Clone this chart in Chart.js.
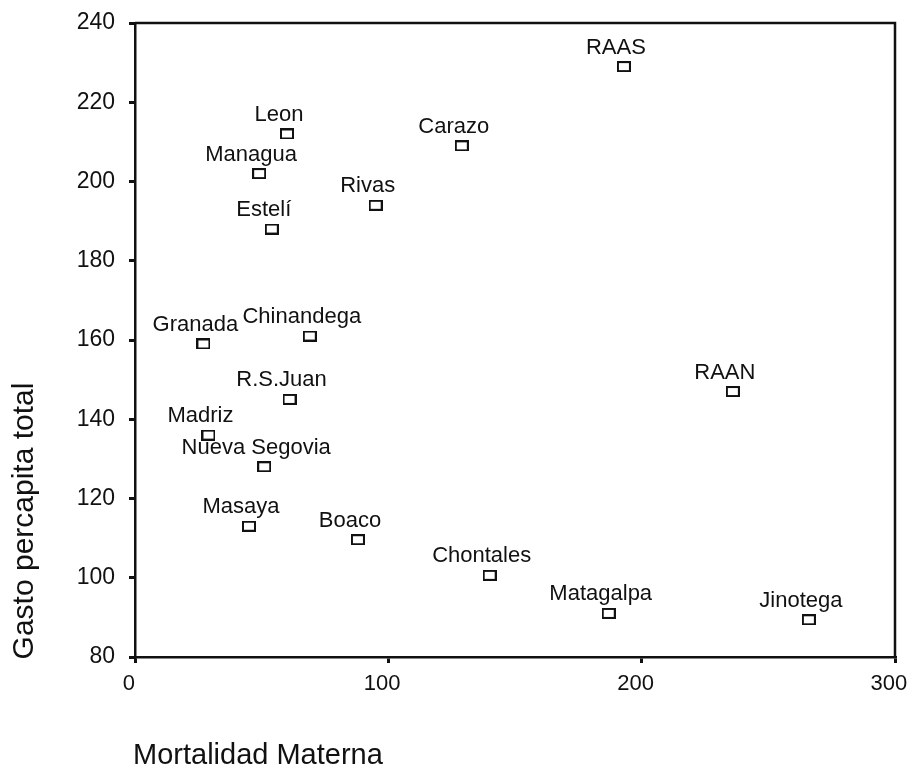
<!DOCTYPE html>
<html>
<head>
<meta charset="utf-8">
<title>Gasto percapita vs Mortalidad Materna</title>
<script src="https://cdn.jsdelivr.net/npm/chart.js@4/dist/chart.umd.min.js"></script>
<style>
  html, body { margin: 0; padding: 0; background: #fff; }
  #wrap { width: 911px; height: 766px; }
</style>
</head>
<body>
<div id="wrap"><canvas id="scatterChart" width="911" height="766"></canvas></div>
<script>
// departamentos / regiones
const departamentos = ['RAAS', 'Carazo', 'Leon', 'Managua', 'Rivas', 'Estelí', 'Chinandega', 'Granada',
  'R.S.Juan', 'RAAN', 'Madriz', 'Nueva Segovia', 'Masaya', 'Boaco', 'Chontales', 'Matagalpa', 'Jinotega'];
// mortalidad materna (eje x)
const mortalidad = [193, 129, 60, 49, 95, 54, 69, 27, 61, 236, 29, 51, 45, 88, 140, 187, 266];
// gasto percapita total (eje y)
const gasto = [229, 209, 212, 202, 194, 188, 161, 159, 145, 147, 136, 128, 113, 109.6, 100.6, 91, 89.4];

const xTicks = [0, 100, 200, 300];
const yTicks = [80, 100, 120, 140, 160, 180, 200, 220, 240];

const ink = '#111';
const fontFamily = '"Liberation Sans", Arial, Helvetica, sans-serif';

// small hollow rectangle used as marker
const marker = document.createElement('canvas');
marker.width = 14;
marker.height = 11;
const mctx = marker.getContext('2d');
mctx.strokeStyle = ink;
mctx.lineWidth = 2;
mctx.strokeRect(1, 1, 12, 9);

const points = mortalidad.map((m, i) => ({ x: m, y: gasto[i] }));

// box around the plot area (top and right sides)
const frame = {
  id: 'frame',
  afterDraw(chart) {
    const { ctx, chartArea: a } = chart;
    ctx.save();
    ctx.strokeStyle = ink;
    ctx.lineWidth = 2.5;
    ctx.beginPath();
    ctx.moveTo(a.left, a.top);
    ctx.lineTo(a.right, a.top);
    ctx.lineTo(a.right, a.bottom);
    ctx.stroke();
    ctx.restore();
  }
};

// name of every point, just above its marker
const pointLabels = {
  id: 'pointLabels',
  afterDatasetsDraw(chart) {
    const ctx = chart.ctx;
    const meta = chart.getDatasetMeta(0);
    ctx.save();
    ctx.fillStyle = ink;
    ctx.font = '22px ' + fontFamily;
    ctx.textAlign = 'center';
    ctx.textBaseline = 'alphabetic';
    meta.data.forEach((pt, i) => {
      ctx.fillText(departamentos[i], pt.x - 8, pt.y - 13);
    });
    ctx.restore();
  }
};

// axis titles sit off-centre in the original, so draw them by hand
const axisTitles = {
  id: 'axisTitles',
  afterDraw(chart) {
    const { ctx, chartArea: a } = chart;
    ctx.save();
    ctx.fillStyle = ink;
    ctx.textBaseline = 'alphabetic';
    ctx.textAlign = 'left';
    ctx.font = '29px ' + fontFamily;
    ctx.fillText('Mortalidad Materna', a.left - 2, chart.height - 2);
    ctx.font = '30px ' + fontFamily;
    ctx.translate(33, 521);
    ctx.rotate(-Math.PI / 2);
    ctx.textAlign = 'center';
    ctx.fillText('Gasto percapita total', 0, 0);
    ctx.restore();
  }
};

const ctx = document.getElementById('scatterChart').getContext('2d');
new Chart(ctx, {
  type: 'scatter',
  data: {
    datasets: [{
      data: points,
      pointStyle: marker,
      pointRadius: 6,
      pointHoverRadius: 6
    }]
  },
  options: {
    responsive: false,
    animation: false,
    layout: { padding: { top: 23, right: 16, left: 0, bottom: 0 } },
    plugins: {
      legend: { display: false },
      tooltip: { enabled: false }
    },
    scales: {
      x: {
        type: 'linear',
        min: 0,
        max: 300,
        afterBuildTicks: s => { s.ticks = xTicks.map(v => ({ value: v })); },
        afterFit: s => { s.height = 109; s.paddingLeft = 0; s.paddingRight = 0; },
        ticks: {
          color: ink,
          font: { family: fontFamily, size: 22 },
          padding: 8,
          // trailing spaces nudge the labels a little left, as in the original
          callback: v => v + '  '
        },
        grid: { drawOnChartArea: false, drawTicks: true, tickLength: 6, color: ink, lineWidth: 3 },
        border: { display: true, color: ink, width: 2.5 }
      },
      y: {
        type: 'linear',
        min: 80,
        max: 240,
        afterBuildTicks: s => { s.ticks = yTicks.map(v => ({ value: v })); },
        afterFit: s => { s.width = 135; s.paddingTop = 0; s.paddingBottom = 0; },
        ticks: { color: ink, font: { family: fontFamily, size: 23 }, padding: 14 },
        grid: { drawOnChartArea: false, drawTicks: true, tickLength: 6, color: ink, lineWidth: 3 },
        border: { display: true, color: ink, width: 2.5 }
      }
    }
  },
  plugins: [frame, pointLabels, axisTitles]
});
</script>
</body>
</html>
